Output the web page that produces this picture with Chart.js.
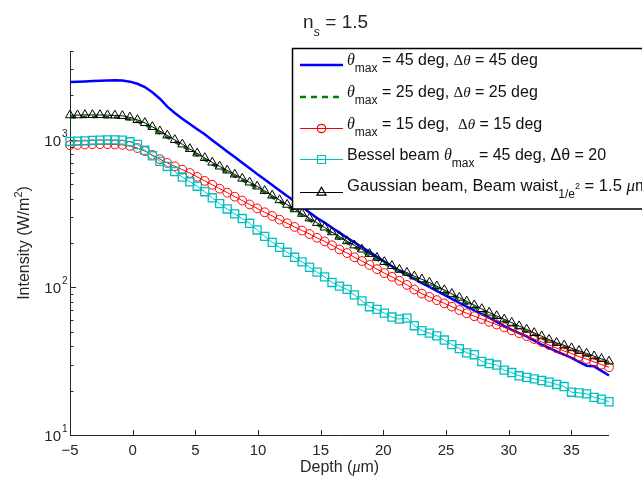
<!DOCTYPE html>
<html>
<head>
<meta charset="utf-8">
<script src="https://cdn.jsdelivr.net/npm/chart.js@4.4.0/dist/chart.umd.min.js"></script>
<style>
  html, body { margin: 0; padding: 0; background: #fff; }
</style>
</head>
<body>
<canvas id="intensityChart" width="642" height="478"></canvas>
<script>
// depth samples (um)
const depth = [
  -5, -4.40, -3.81, -3.21, -2.61, -2.01, -1.42, -0.82, -0.22, 0.38,
  0.97, 1.57, 2.17, 2.76, 3.36, 3.96, 4.56, 5.15, 5.75, 6.35,
  6.94, 7.54, 8.14, 8.74, 9.33, 9.93, 10.53, 11.13, 11.72, 12.32,
  12.92, 13.51, 14.11, 14.71, 15.31, 15.90, 16.50, 17.10, 17.69, 18.29,
  18.89, 19.49, 20.08, 20.68, 21.28, 21.88, 22.47, 23.07, 23.67, 24.26,
  24.86, 25.46, 26.06, 26.65, 27.25, 27.85, 28.44, 29.04, 29.64, 30.24,
  30.83, 31.43, 32.03, 32.63, 33.22, 33.82, 34.42, 35.01, 35.61, 36.21,
  36.81, 37.40, 38.00,
];

// intensity (W/m^2)
const theta45 = [
  2470, 2480, 2490, 2500, 2510, 2520, 2530, 2520, 2480, 2400,
  2280, 2100, 1900, 1680, 1520, 1390, 1280, 1180, 1090, 995,
  912, 835, 764, 700, 641, 587, 538, 494, 454, 417,
  383, 351, 322, 295, 275, 254, 235, 217, 202, 187,
  174, 161, 150, 139, 129, 122, 114, 107, 101, 94.8,
  89.1, 83.7, 78.7, 74, 70, 66, 62.4, 58.5, 54.7, 51.5,
  49, 46.6, 43.6, 40.9, 38.9, 36.8, 35.1, 33.3, 31.3, 29.5,
  29.2, 27.2, 25.3,
];
const theta25 = [
  1425, 1425, 1430, 1430, 1430, 1425, 1420, 1410, 1378, 1325,
  1265, 1190, 1110, 1040, 970, 905, 843, 786, 732, 682,
  641, 602, 566, 531, 500, 470, 438, 408, 380, 354,
  329, 307, 285, 266, 248, 230, 214, 200, 187, 175,
  164, 154, 145, 136, 128, 122, 115, 110, 105, 99,
  93, 88, 83, 78, 73.5, 69.5, 65.5, 62, 59, 56,
  53, 50.3, 47.7, 45.3, 43, 41, 39.3, 37.6, 36.1, 34.6,
  33.2, 31.8, 30.6,
];
const theta15 = [
  920, 925, 930, 935, 935, 935, 930, 925, 910, 880,
  840, 790, 740, 698, 662, 628, 596, 561, 527, 496,
  467, 439, 412, 388, 365, 343, 323, 305, 288, 272,
  257, 243, 230, 217, 205, 193, 181, 171, 160, 151,
  142, 133, 125, 118, 111, 104, 96.8, 90.8, 86.3, 82,
  78, 74.1, 70.3, 66.8, 63.8, 61.1, 58.5, 56, 53.6, 51.2,
  49, 46.8, 44.7, 42.7, 40.7, 38.8, 37.1, 35.6, 34, 32.7,
  31.3, 30, 28.8,
];
const bessel = [
  975, 980, 985, 990, 995, 1000, 1000, 995, 970, 930,
  850, 780, 715, 660, 610, 560, 520, 485, 445, 405,
  370, 340, 315, 293, 272, 245, 222, 202, 187, 173,
  160, 149, 137, 127, 118, 108, 102, 97, 89, 81,
  74, 71, 67, 63, 61, 62, 55, 51, 49, 47,
  44, 41, 38.5, 36, 35, 31.5, 30.5, 29.8, 27.5, 26.5,
  25.2, 24.6, 24, 23.4, 22.8, 22, 21.3, 19.5, 19.3, 19,
  18, 17.5, 16.8,
];
const gaussian = [
  1470, 1470, 1475, 1475, 1475, 1470, 1465, 1455, 1420, 1365,
  1303, 1225, 1145, 1072, 1000, 933, 869, 810, 755, 703,
  661, 621, 583, 547, 515, 484, 451, 420, 391, 364,
  339, 316, 294, 274, 255, 237, 221, 206, 193, 181,
  169, 159, 149, 140, 132, 126, 119, 113.5, 108, 102,
  96, 90.6, 85.3, 80.5, 75.9, 71.5, 67.6, 64.1, 60.8, 57.7,
  54.7, 51.9, 49.2, 46.7, 44.3, 42.2, 40.5, 38.8, 37.2, 35.7,
  34.2, 32.8, 31.5,
];

const xTicks = [-5, 0, 5, 10, 15, 20, 25, 30, 35];
const yDecades = [10, 100, 1000];
const yExponents = ['1', '2', '3'];
const yMinorSteps = [2, 3, 4, 5, 6, 7, 8, 9];

const SANS = '"Liberation Sans", Arial, Helvetica, sans-serif';
const SERIF = '"Liberation Serif", "Times New Roman", serif';
const INK = '#262626';

const xy = (arr) => depth.map((d, i) => ({ x: d, y: arr[i] }));

// draw a row of text pieces, each with its own font and vertical shift
function richText(ctx, x, y, parts) {
  for (const p of parts) {
    ctx.font = p.f;
    ctx.fillText(p.t, x, y + (p.dy || 0));
    x += ctx.measureText(p.t).width;
  }
  return x;
}
function richWidth(ctx, parts) {
  let w = 0;
  for (const p of parts) {
    ctx.font = p.f;
    w += ctx.measureText(p.t).width;
  }
  return w;
}

const sans16 = `16px ${SANS}`;
const sub12 = `12px ${SANS}`;
const thetaF = `italic 16px ${SERIF}`;

const legendRows = [
  {
    y: 65, color: '#0000ff', width: 2.5, dash: [], marker: null,
    parts: [
      { t: 'θ', f: thetaF }, { t: 'max', f: sub12, dy: 7 },
      { t: ' = 45 deg, ', f: sans16 }, { t: 'Δ', f: `15px ${SERIF}` },
      { t: 'θ', f: `italic 15px ${SERIF}` }, { t: ' = 45 deg', f: sans16 },
    ],
  },
  {
    y: 97, color: '#008000', width: 2.5, dash: [6, 5], marker: null,
    parts: [
      { t: 'θ', f: thetaF }, { t: 'max', f: sub12, dy: 7 },
      { t: ' = 25 deg, ', f: sans16 }, { t: 'Δ', f: `15px ${SERIF}` },
      { t: 'θ', f: `italic 15px ${SERIF}` }, { t: ' = 25 deg', f: sans16 },
    ],
  },
  {
    y: 128.5, color: '#ff0000', width: 1, dash: [], marker: 'circle',
    parts: [
      { t: 'θ', f: thetaF }, { t: 'max', f: sub12, dy: 7 },
      { t: ' = 15 deg,  ', f: sans16 }, { t: 'Δ', f: `15px ${SERIF}` },
      { t: 'θ', f: `italic 15px ${SERIF}` }, { t: ' = 15 deg', f: sans16 },
    ],
  },
  {
    y: 159.5, color: '#00bfbf', width: 1, dash: [], marker: 'rect',
    parts: [
      { t: 'Bessel beam ', f: sans16 }, { t: 'θ', f: thetaF },
      { t: 'max', f: sub12, dy: 7 }, { t: ' = 45 deg, Δθ = 20', f: sans16 },
    ],
  },
  {
    y: 192.5, color: '#000000', width: 1, dash: [], marker: 'triangle',
    parts: [
      { t: 'Gaussian beam, Beam waist', f: `16.6px ${SANS}`, dy: -2 },
      { t: '1/e', f: sub12, dy: 5 }, { t: '2', f: `9px ${SANS}`, dy: -4 },
      { t: ' = 1.5 ', f: `16.6px ${SANS}`, dy: -2 }, { t: 'μ', f: `italic 17px ${SERIF}`, dy: -2 },
      { t: 'm', f: `16.6px ${SANS}`, dy: -2 },
    ],
  },
];

const decorPlugin = {
  id: 'decor',
  beforeDatasetsDraw(chart) {
    const { ctx, chartArea: a, scales } = chart;
    const xs = scales.x, ys = scales.y;
    ctx.save();
    ctx.strokeStyle = INK;
    ctx.lineWidth = 1;
    ctx.beginPath();
    ctx.moveTo(a.left + 0.5, a.top);
    ctx.lineTo(a.left + 0.5, a.bottom + 0.5);
    ctx.lineTo(a.right, a.bottom + 0.5);
    // x ticks point inward
    for (const v of xTicks) {
      const px = Math.round(xs.getPixelForValue(v)) + 0.5;
      ctx.moveTo(px, a.bottom);
      ctx.lineTo(px, a.bottom - 5);
    }
    // y major and minor ticks
    for (const d of yDecades) {
      const py = Math.round(ys.getPixelForValue(d)) + 0.5;
      ctx.moveTo(a.left, py);
      ctx.lineTo(a.left + 6, py);
      for (const m of yMinorSteps) {
        const v = d * m;
        if (v > ys.max) continue;
        const pm = Math.round(ys.getPixelForValue(v)) + 0.5;
        ctx.moveTo(a.left, pm);
        ctx.lineTo(a.left + 3.5, pm);
      }
    }
    ctx.stroke();

    // tick labels
    ctx.fillStyle = INK;
    ctx.font = `15px ${SANS}`;
    ctx.textAlign = 'center';
    ctx.textBaseline = 'alphabetic';
    for (const v of xTicks) {
      const label = v < 0 ? '\u2212' + Math.abs(v) : String(v);
      ctx.fillText(label, xs.getPixelForValue(v), a.bottom + 20);
    }
    yDecades.forEach((d, i) => {
      const py = ys.getPixelForValue(d);
      ctx.font = `15px ${SANS}`;
      ctx.textAlign = 'right';
      ctx.fillText('10', 61, py + 6);
      ctx.font = `10px ${SANS}`;
      ctx.textAlign = 'left';
      ctx.fillText(yExponents[i], 62, py - 3);
    });
    ctx.restore();
  },
  afterDraw(chart) {
    const { ctx, chartArea: a } = chart;
    ctx.save();
    ctx.fillStyle = INK;
    ctx.textBaseline = 'alphabetic';
    ctx.textAlign = 'left';

    // title
    richText(ctx, 303, 28, [
      { t: 'n', f: `19px ${SANS}` },
      { t: 's', f: `italic 13px ${SANS}`, dy: 8 },
      { t: ' = 1.5', f: `19px ${SANS}` },
    ]);

    // x axis title
    const xParts = [
      { t: 'Depth (', f: sans16 }, { t: 'μ', f: thetaF }, { t: 'm)', f: sans16 },
    ];
    const xw = richWidth(ctx, xParts);
    richText(ctx, (a.left + a.right) / 2 - xw / 2, 472, xParts);

    // y axis title
    const yParts = [
      { t: 'Intensity (W/m', f: sans16 }, { t: '2', f: `11px ${SANS}`, dy: -7 },
      { t: ')', f: sans16 },
    ];
    const yw = richWidth(ctx, yParts);
    ctx.save();
    ctx.translate(29, (a.top + a.bottom) / 2);
    ctx.rotate(-Math.PI / 2);
    richText(ctx, -yw / 2, 0, yParts);
    ctx.restore();

    // legend box, partly outside the canvas on the right
    ctx.fillStyle = '#ffffff';
    ctx.fillRect(292, 48, 360, 161);
    ctx.strokeStyle = '#000';
    ctx.lineWidth = 1.5;
    ctx.strokeRect(292.5, 48.5, 360, 160.5);

    for (const r of legendRows) {
      ctx.strokeStyle = r.color;
      ctx.lineWidth = r.width;
      ctx.setLineDash(r.dash);
      ctx.beginPath();
      ctx.moveTo(300, r.y);
      ctx.lineTo(343, r.y);
      ctx.stroke();
      ctx.setLineDash([]);
      if (r.marker) {
        ctx.lineWidth = 1.2;
        ctx.beginPath();
        const cx = 321.5, cy = r.y;
        if (r.marker === 'circle') {
          ctx.arc(cx, cy, 4.2, 0, Math.PI * 2);
        } else if (r.marker === 'rect') {
          ctx.rect(cx - 4, cy - 4, 8, 8);
        } else {
          ctx.moveTo(cx, cy - 5.2);
          ctx.lineTo(cx + 4.5, cy + 2.6);
          ctx.lineTo(cx - 4.5, cy + 2.6);
          ctx.closePath();
        }
        ctx.stroke();
      }
      ctx.fillStyle = '#111';
      richText(ctx, 347, r.y, r.parts);
    }
    ctx.restore();
  },
};

new Chart(document.getElementById('intensityChart'), {
  type: 'line',
  data: {
    datasets: [
      {
        label: 'θmax = 45 deg, Δθ = 45 deg',
        data: xy(theta45),
        borderColor: '#0000ff',
        borderWidth: 2.5,
        pointRadius: 0,
        order: 5,
      },
      {
        label: 'θmax = 25 deg, Δθ = 25 deg',
        data: xy(theta25),
        borderColor: '#008000',
        borderWidth: 2.5,
        borderDash: [6, 5],
        pointRadius: 0,
        order: 4,
      },
      {
        label: 'θmax = 15 deg, Δθ = 15 deg',
        data: xy(theta15),
        borderColor: '#ff0000',
        borderWidth: 1,
        pointStyle: 'circle',
        pointRadius: 4.4,
        pointBorderWidth: 1,
        pointBorderColor: '#ff0000',
        pointBackgroundColor: 'rgba(0,0,0,0)',
        order: 3,
      },
      {
        label: 'Bessel beam θmax = 45 deg, Δθ = 20',
        data: xy(bessel),
        borderColor: '#00bfbf',
        borderWidth: 1,
        pointStyle: 'rect',
        pointRadius: 5.7,
        pointBorderWidth: 1.3,
        pointBorderColor: '#00bfbf',
        pointBackgroundColor: 'rgba(0,0,0,0)',
        order: 2,
      },
      {
        label: 'Gaussian beam, Beam waist 1/e2 = 1.5 µm',
        data: xy(gaussian),
        borderColor: '#000000',
        borderWidth: 1,
        pointStyle: 'triangle',
        pointRadius: 5.2,
        pointBorderWidth: 1,
        pointBorderColor: '#000000',
        pointBackgroundColor: 'rgba(0,0,0,0)',
        order: 1,
      },
    ],
  },
  options: {
    responsive: false,
    animation: false,
    devicePixelRatio: 1,
    clip: false,
    layout: { padding: { left: 0, right: 33, top: 51, bottom: 0 } },
    elements: { line: { tension: 0 } },
    plugins: {
      legend: { display: false },
      tooltip: { enabled: false },
      title: { display: false },
    },
    scales: {
      x: {
        type: 'linear',
        min: -5,
        max: 38,
        grid: { display: false, drawTicks: false },
        border: { display: false },
        ticks: { display: false },
        afterFit: (s) => { s.height = 43; },
      },
      y: {
        type: 'logarithmic',
        min: 10,
        max: 4000,
        grid: { display: false, drawTicks: false },
        border: { display: false },
        ticks: { display: false },
        afterFit: (s) => { s.width = 70; },
      },
    },
  },
  plugins: [decorPlugin],
});
</script>
</body>
</html>
